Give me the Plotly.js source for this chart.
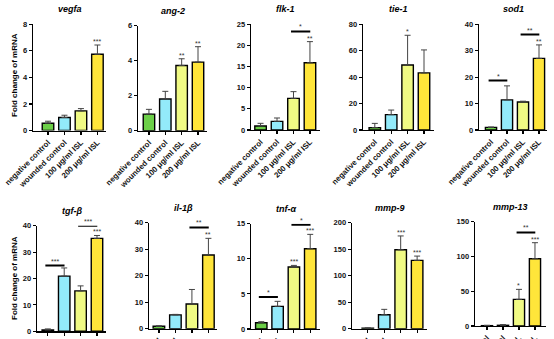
<!DOCTYPE html>
<html>
<head>
<meta charset="utf-8">
<script src="https://cdn.plot.ly/plotly-3.0.1.min.js"></script>
<style>html,body{margin:0;padding:0;background:#fff;}#chart{width:554px;height:339px;}</style>
</head>
<body>
<div id="chart"></div>
<script>
// ---- data ----
const categories = ["negative control", "wounded control", "100 μg/ml ISL", "200 μg/ml ISL"];
const genes = ["vegfa", "ang-2", "flk-1", "tie-1", "sod1", "tgf-β", "il-1β", "tnf-α", "mmp-9", "mmp-13"];

const vegfaMean = [0.55, 0.98, 1.48, 5.74];
const vegfaErr  = [0.15, 0.17, 0.17, 0.70];
const ang2Mean  = [0.95, 1.81, 3.73, 3.92];
const ang2Err   = [0.27, 0.44, 0.38, 0.88];
const flk1Mean  = [0.95, 2.05, 7.49, 15.9];
const flk1Err   = [0.63, 0.79, 1.58, 5.0];
const tie1Mean  = [1.8, 11.6, 49.2, 43.2];
const tie1Err   = [3.2, 3.5, 22.5, 17.4];
const sod1Mean  = [1.0, 11.4, 10.6, 27.1];
const sod1Err   = [0.1, 5.3, 0.3, 5.1];
const tgfbMean  = [0.5, 20.9, 15.3, 35.2];
const tgfbErr   = [0.4, 3.1, 1.9, 1.1];
const il1bMean  = [0.9, 5.2, 9.3, 27.8];
const il1bErr   = [0.2, 0.2, 5.5, 6.3];
const tnfaMean  = [0.9, 3.23, 8.83, 11.44];
const tnfaErr   = [0.14, 0.71, 0.23, 2.04];
const mmp9Mean  = [0.8, 26.4, 149, 129];
const mmp9Err   = [0.7, 10.1, 26, 8];
const mmp13Mean = [0.5, 1.0, 38.3, 96.8];
const mmp13Err  = [0.5, 1.0, 14.4, 23.0];

const vegfaStars = ["", "", "", "***"];
const ang2Stars  = ["", "", "**", "**"];
const flk1Stars  = ["", "", "", "**"];
const tie1Stars  = ["", "", "*", ""];
const sod1Stars  = ["", "", "", "**"];
const tgfbStars  = ["", "", "", "***"];
const il1bStars  = ["", "", "", "**"];
const tnfaStars  = ["", "", "***", "***"];
const mmp9Stars  = ["", "", "***", "***"];
const mmp13Stars = ["", "", "*", "***"];

// brackets: [from category, to category, level, label]
const flk1Brackets  = [[2, 3, 23.3, "*"]];
const sod1Brackets  = [[0, 1, 18.7, "*"], [2, 3, 36.1, "**"]];
const tgfbBrackets  = [[0, 1, 24.9, "***"], [2, 3, 40.0, "***"]];
const il1bBrackets  = [[2, 3, 38.2, "**"]];
const tnfaBrackets  = [[0, 1, 4.56, "*"], [2, 3, 14.86, "*"]];
const mmp13Brackets = [[2, 3, 134.6, "**"]];

const yMaxes = [8, 6, 25, 80, 40, 40, 40, 15, 200, 150];
const yDticks = [2, 2, 5, 20, 10, 10, 10, 5, 50, 50];

const allMeans = [vegfaMean, ang2Mean, flk1Mean, tie1Mean, sod1Mean, tgfbMean, il1bMean, tnfaMean, mmp9Mean, mmp13Mean];
const allErrs = [vegfaErr, ang2Err, flk1Err, tie1Err, sod1Err, tgfbErr, il1bErr, tnfaErr, mmp9Err, mmp13Err];
const allStars = [vegfaStars, ang2Stars, flk1Stars, tie1Stars, sod1Stars, tgfbStars, il1bStars, tnfaStars, mmp9Stars, mmp13Stars];
const allBrackets = [[], [], flk1Brackets, [], sod1Brackets, tgfbBrackets, il1bBrackets, tnfaBrackets, [], mmp13Brackets];

// ---- layout geometry (pixels) ----
const W = 554, H = 339;
const axX = [[33,106],[138,207],[251,320],[363,434],[479,547],[37,106],[149,217],[251,320],[352,427],[475,546]];
const axY = [[24.3,130.5],[25.7,130.7],[24.3,130],[24.3,130],[24.3,130],[225.7,331.3],[222.7,328.7],[223.7,329],[222.7,328.7],[221.7,326]];
const xRanges = [[-0.91,3.52],[-0.67,3.55],[-0.58,3.61],[-0.72,3.61],[-0.75,3.5],[-0.66,3.55],[-0.6,3.52],[-0.63,3.6],[-0.96,3.6],[-0.75,3.69]];
const barColors = ["#6ccf48", "#93eafa", "#f0fa84", "#ffe53a"];
const FONT = "Liberation Sans, Arial, Helvetica, sans-serif";

const traces = [];
const layout = {
  width: W, height: H,
  margin: {l: 0, r: 0, t: 0, b: 0},
  paper_bgcolor: "#ffffff", plot_bgcolor: "rgba(0,0,0,0)",
  showlegend: false,
  annotations: [], shapes: [],
  font: {family: FONT, color: "#000"}
};

for (let i = 0; i < genes.length; i++) {
  const n = i + 1;
  const xk = n === 1 ? "x" : "x" + n;
  const yk = n === 1 ? "y" : "y" + n;
  const xa = n === 1 ? "xaxis" : "xaxis" + n;
  const ya = n === 1 ? "yaxis" : "yaxis" + n;

  traces.push({
    type: "bar", x: categories, y: allMeans[i], xaxis: xk, yaxis: yk,
    width: 0.7,
    marker: {color: barColors, line: {color: "#000", width: 1.4}},
    error_y: {type: "data", array: allErrs[i], arrayminus: allErrs[i].map(() => 0), symmetric: false,
              color: "#444", thickness: 1, width: 3},
    hoverinfo: "none"
  });

  layout[xa] = {
    domain: [axX[i][0] / W, axX[i][1] / W], anchor: yk,
    type: "category", categoryarray: categories, range: xRanges[i],
    showline: true, linecolor: "#000", linewidth: 1.4,
    ticks: "outside", ticklen: 3, tickwidth: 1.2, tickcolor: "#000",
    tickangle: -45, showgrid: false, zeroline: false,
    tickfont: {family: FONT, size: 7.8, color: "#111", weight: "bold"}
  };
  layout[ya] = {
    domain: [1 - axY[i][1] / H, 1 - axY[i][0] / H], anchor: xk,
    range: [0, yMaxes[i]], tick0: 0, dtick: yDticks[i],
    showline: true, linecolor: "#000", linewidth: 1.4,
    ticks: "outside", ticklen: 3, tickwidth: 1.2, tickcolor: "#000",
    showgrid: false, zeroline: false,
    tickfont: {family: FONT, size: 7.5, color: "#111", weight: "bold"}
  };

  // gene title
  layout.annotations.push({
    xref: "paper", yref: "paper",
    x: (axX[i][0] + axX[i][1]) / 2 / W, y: 1 - (axY[i][0] - 15) / H,
    text: genes[i], showarrow: false, xanchor: "center", yanchor: "middle",
    font: {family: FONT, size: 9, color: "#000", weight: "bold", style: "italic"}
  });

  // stars over bars
  allStars[i].forEach((s, j) => {
    if (!s) return;
    layout.annotations.push({
      xref: xk, yref: yk, x: j, y: allMeans[i][j] + allErrs[i][j],
      text: s, showarrow: false, xanchor: "center", yanchor: "bottom", yshift: -2,
      font: {family: FONT, size: 7, color: "#333"}
    });
  });

  // significance brackets
  allBrackets[i].forEach(b => {
    layout.shapes.push({
      type: "line", xref: xk, yref: yk, x0: b[0] - 0.15, x1: b[1] + 0.02, y0: b[2], y1: b[2],
      line: {color: "#000", width: 2}
    });
    layout.annotations.push({
      xref: xk, yref: yk, x: (b[0] + b[1]) / 2 - 0.05, y: b[2],
      text: b[3], showarrow: false, xanchor: "center", yanchor: "bottom", yshift: -1,
      font: {family: FONT, size: 7, color: "#333"}
    });
  });
}

// y-axis titles
[[75], [278]].forEach(p => {
  layout.annotations.push({
    xref: "paper", yref: "paper", x: 14 / W, y: 1 - p[0] / H,
    text: "Fold change of mRNA", showarrow: false, textangle: -90,
    xanchor: "center", yanchor: "middle",
    font: {family: FONT, size: 8, color: "#000", weight: "bold"}
  });
});

Plotly.newPlot("chart", traces, layout, {displayModeBar: false, staticPlot: true});
</script>
</body>
</html>
